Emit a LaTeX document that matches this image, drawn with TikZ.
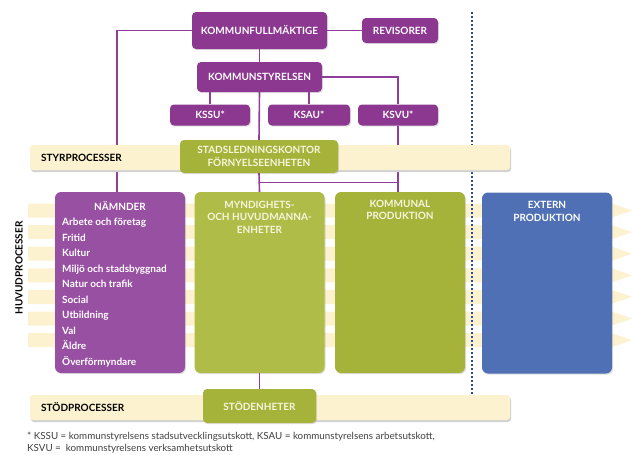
\documentclass[tikz,border=0pt]{standalone}
\usepackage{fontspec}
\setmainfont{Lato}
\usepackage{tikz}
\usetikzlibrary{shadows}
\definecolor{kfpurple}{RGB}{140,56,145}
\definecolor{nmpurple}{RGB}{152,80,162}
\definecolor{sgreen}{RGB}{166,179,58}
\definecolor{sgreenlt}{RGB}{176,188,72}
\definecolor{sblue}{RGB}{80,112,181}
\definecolor{sbeige}{RGB}{252,242,207}
\definecolor{sdots}{RGB}{40,75,150}
\definecolor{slinje}{RGB}{145,62,155}
\definecolor{spale}{RGB}{246,246,222}
\tikzset{
  skugga/.style={drop shadow={opacity=0.25, shadow xshift=1pt, shadow yshift=-1.2pt}},
  pbox/.style={fill=kfpurple, rounded corners=4pt, text=white, inner sep=0pt,
    font=\bfseries\fontsize{10}{12.5}\selectfont, align=center, skugga},
  gbox/.style={pbox, fill=sgreen, text=spale},
  stor/.style={rounded corners=6pt, inner sep=0pt, minimum width=130, minimum height=181, skugga},
  rubrik/.style={font=\bfseries\fontsize{10}{12.5}\selectfont, align=center, inner sep=0pt},
  conn/.style={draw=slinje, line width=1.6pt},
  procband/.style={fill=sbeige, rounded corners=3pt, inner sep=0pt, minimum width=480, minimum height=25},
  proctext/.style={font=\bfseries\fontsize{10}{12}\selectfont, inner sep=0pt}
}

\begin{document}
\begin{tikzpicture}[x=1pt, y=-1pt]
\useasboundingbox (0,0) rectangle (633,455);
% huvudprocesser, ränder
\foreach \i in {0,...,6}
  \fill[sbeige] (28,{203.5+21.6*\i}) -- ++(584,0) -- ++(20,7) -- ++(-20,7) -- ++(-584,0) -- cycle;
\draw[sdots, line width=1.8pt, dash pattern=on 1.8pt off 2.2pt] (472,12) -- (472,398);
% ledning
\node[pbox, minimum width=135, minimum height=37] (kf) at (259.5,30.5) {KOMMUNFULLMÄKTIGE};
\node[pbox, minimum width=76, minimum height=25] (rev) at (400,30.5) {REVISORER};
\node[pbox, minimum width=125, minimum height=30] (ks) at (259.5,77) {KOMMUNSTYRELSEN};
\node[pbox, minimum width=80, minimum height=21] (kssu) at (210,115) {KSSU*};
\node[pbox, minimum width=82, minimum height=21] (ksau) at (309,115) {KSAU*};
\node[pbox, minimum width=80, minimum height=21] (ksvu) at (398,115) {KSVU*};
% huvudprocesser
\node[proctext, rotate=90] (huvt) at (19,268) {HUVUDPROCESSER};
\node[stor, fill=nmpurple] (nam) at (120,282.5) {};
\node[stor, fill=sgreenlt] (myn) at (259.5,282.5) {};
\node[stor, fill=sgreen] (kp) at (400,282.5) {};
\node[stor, fill=sblue] (ext) at (547,283) {};
\node[rubrik, text=white, anchor=north, yshift=-9pt] (namt) at (nam.north) {NÄMNDER};
\node[anchor=north west, inner sep=0pt, text=white, align=left,
  font=\bfseries\fontsize{10}{15.5}\selectfont] (naml) at (62,218)
  {Arbete och företag\\Fritid\\Kultur\\Miljö och stadsbyggnad\\Natur och trafik\\Social\\Utbildning\\Val\\Äldre\\Överförmyndare};
\node[rubrik, text=spale, anchor=north, yshift=-9pt] (mynt) at (myn.north) {MYNDIGHETS-\\OCH HUVUDMANNA-\\ENHETER};
\node[rubrik, text=spale, anchor=north, yshift=-8pt] (kpt) at (kp.north) {KOMMUNAL\\PRODUKTION};
\node[rubrik, text=white, anchor=north, yshift=-9pt] (extt) at (ext.north) {EXTERN\\PRODUKTION};
% linjer under banden
\coordinate (namin) at (117,0);
\draw[conn] (kf.west) -| (namin |- nam.north);
\draw[conn] (kf.east) -- (rev.west);
\draw[conn] (kf.south) -- (ks.north);
\draw[conn] (ks.east) -| (ksvu.north);
\draw[conn] (ks.south -| kssu.north) -- (kssu.north);
\draw[conn] (ks.south -| ksau.north) -- (ksau.north);
\draw[conn] (ksvu.south) -- (ksvu.south |- kp.north);
% styr- och stödprocesser
\fill[black!18, rounded corners=3pt] (31,147) rectangle (511,172);
\node[procband] (styr) at (270,157.5) {};
\fill[black!18, rounded corners=3pt] (31,397) rectangle (511,422);
\node[procband] (stodband) at (270,407.5) {};
\node[proctext, anchor=west] (styrt) at (41,158) {STYRPROCESSER};
\node[proctext, anchor=west] (stodt) at (41,407) {STÖDPROCESSER};
\node[gbox, minimum width=158, minimum height=33] (slk) at (259,156.5) {STADSLEDNINGSKONTOR\\FÖRNYELSEENHETEN};
\node[gbox, minimum width=113, minimum height=34] (stod) at (259.5,406) {STÖDENHETER};
\draw[conn] (ks.south) -- (slk.north);
\draw[conn] (slk.south) -- (myn.north);
\path (slk.south) -- (myn.north) coordinate[midway] (mitt);
\draw[conn] (mitt) -- (mitt -| ksvu.south);
\draw[conn] (myn.south) -- (stod.north);
% fotnot
\node[anchor=north west, inner sep=0pt, align=left, text=black!75,
  font=\fontsize{9.8}{12}\selectfont] (fotnot) at (27,432)
  {* KSSU = kommunstyrelsens stadsutvecklingsutskott, KSAU = kommunstyrelsens arbetsutskott,\\KSVU =\ \ kommunstyrelsens verksamhetsutskott};
\end{tikzpicture}
\end{document}
